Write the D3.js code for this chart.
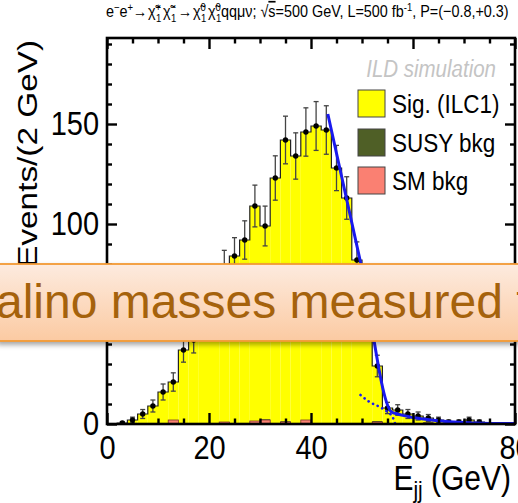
<!DOCTYPE html>
<html>
<head>
<meta charset="utf-8">
<script src="https://cdn.jsdelivr.net/npm/d3@7"></script>
<style>
  body { margin: 0; background: #fff; }
  svg { display: block; font-family: "Liberation Sans", Arial, Helvetica, sans-serif; }
</style>
</head>
<body>
<div id="chart"></div>
<script>
// ---- data (2 GeV bins, lower edges) ----
const binLow = [0, 2, 4, 6, 8, 10, 12, 14, 16, 18, 20, 22, 24, 26, 28, 30, 32, 34, 36, 38,
                40, 42, 44, 46, 48, 50, 52, 54, 56, 58, 60, 62, 64, 66, 68, 70, 72, 74, 76, 78];
// total stack (signal + bkg), also the pseudo-data points
const sigTotal = [0, 0.5, 2, 5, 9, 16, 21, 37, 42, 55, 68, 78, 84, 92, 109, 99, 123, 142, 134, 146,
                  149, 147, 128, 113, 82, 58, 29, 8, 7, 5, 4, 3, 2, 1, 1, 2, 1, 0, 0, 0];
const susyBkg = [0, 0, 0, 0, 0, 0, 0, 0, 0, 0, 0, 0, 0, 0, 0, 0.4, 0, 0.4, 0, 0,
                 0, 0, 0, 0, 0, 0, 0.5, 0, 0, 0, 0, 0.4, 0, 0, 0, 0, 0, 0, 0, 0];
const smBkg = [0, 0, 0, 0, 0, 0, 2, 0, 0, 0, 0, 1, 0, 0, 1.5, 2, 0, 1, 0, 2,
               0, 0, 0, 0, 0, 0, 1, 0, 0, 0, 0, 0.5, 0, 0, 0, 0, 0, 0, 0, 0];
// fit (edge + tail) and its background component, [E, events]
const fitLine = [[43.3, 155], [49.7, 81], [55.8, 6], [57, 5], [58, 4.3], [60, 3.3], [62, 2.5],
                 [64, 1.9], [66, 1.4], [68, 1.0], [70, 0.7], [72, 0.5], [75, 0.3], [80, 0.2]];
const fitBkg = [[49.7, 14.5], [51.5, 11], [53.5, 8.5], [55, 6], [56, 3.5], [56.5, 0]];

const xMajor = [0, 20, 40, 60, 80];
const xMinor = [5, 10, 15, 25, 30, 35, 45, 50, 55, 65, 70, 75];
const yMajor = [0, 50, 100, 150];
const yMinor = [10, 20, 30, 40, 60, 70, 80, 90, 110, 120, 130, 140, 160, 170, 180, 190];

const legendItems = [
  {label: "Sig. (ILC1)", color: "#ffff00"},
  {label: "SUSY bkg", color: "#4f5f26"},
  {label: "SM bkg", color: "#fa8072"}
];

// ---- layout ----
const W = 518, H = 503;
const SY = 1.17;   // the slide picture is stretched vertically
const frame = {left: 107, right: 515, top: 38, bottom: 424};

const svg = d3.select("#chart").append("svg")
    .attr("width", W)
    .attr("height", H);

const x = d3.scaleLinear().domain([0, 80]).range([frame.left, frame.right]);
const y = d3.scaleLinear().domain([0, 193]).range([frame.bottom, frame.top]);

const defs = svg.append("defs");
defs.append("clipPath").attr("id", "plotClip")
  .append("rect")
    .attr("x", frame.left).attr("y", frame.top)
    .attr("width", frame.right - frame.left).attr("height", frame.bottom - frame.top);

const plot = svg.append("g").attr("clip-path", "url(#plotClip)");

const bins = binLow.map((lo, i) => ({lo: lo, hi: lo + 2, tot: sigTotal[i], susy: susyBkg[i], sm: smBkg[i]}));

// yellow total histogram
plot.selectAll(".sig")
  .data(bins.filter(d => d.tot > 0))
  .enter().append("rect")
    .attr("class", "sig")
    .attr("x", d => x(d.lo))
    .attr("width", d => x(d.hi) - x(d.lo))
    .attr("y", d => y(d.tot))
    .attr("height", d => y(0) - y(d.tot))
    .attr("fill", legendItems[0].color);

// outline of histogram as a step line
let stepPts = bins.map(d => [d.lo, d.tot]);
stepPts.push([80, sigTotal[sigTotal.length - 1]]);
plot.append("path")
    .attr("d", d3.line().x(d => x(d[0])).y(d => y(d[1])).curve(d3.curveStepAfter)(stepPts))
    .attr("fill", "none")
    .attr("stroke", "#222")
    .attr("stroke-width", 1.2);

// susy bkg (stacked on sm), then sm bkg
plot.selectAll(".susy")
  .data(bins.filter(d => d.susy > 0))
  .enter().append("rect")
    .attr("class", "susy")
    .attr("x", d => x(d.lo))
    .attr("width", d => x(d.hi) - x(d.lo))
    .attr("y", d => y(d.susy + d.sm))
    .attr("height", d => y(0) - y(d.susy + d.sm))
    .attr("fill", legendItems[1].color);

plot.selectAll(".sm")
  .data(bins.filter(d => d.sm > 0))
  .enter().append("rect")
    .attr("class", "sm")
    .attr("x", d => x(d.lo))
    .attr("width", d => x(d.hi) - x(d.lo))
    .attr("y", d => y(d.sm))
    .attr("height", d => y(0) - y(d.sm))
    .attr("fill", legendItems[2].color)
    .attr("stroke", "#7a3a2c")
    .attr("stroke-width", 0.8);

// error bars + points
const pts = bins.filter(d => d.tot > 0 && d.lo < 76);
const eb = plot.selectAll(".eb").data(pts).enter().append("g").attr("class", "eb");
eb.append("line")
    .attr("x1", d => x(d.lo + 1)).attr("x2", d => x(d.lo + 1))
    .attr("y1", d => y(d.tot + Math.sqrt(d.tot)))
    .attr("y2", d => y(Math.max(0, d.tot - Math.sqrt(d.tot))))
    .attr("stroke", "#444").attr("stroke-width", 1.3);
["top", "bot"].forEach(function(k) {
  eb.append("line")
      .attr("x1", d => x(d.lo + 1) - 2.5).attr("x2", d => x(d.lo + 1) + 2.5)
      .attr("y1", d => y(k === "top" ? d.tot + Math.sqrt(d.tot) : Math.max(0, d.tot - Math.sqrt(d.tot))))
      .attr("y2", d => y(k === "top" ? d.tot + Math.sqrt(d.tot) : Math.max(0, d.tot - Math.sqrt(d.tot))))
      .attr("stroke", "#444").attr("stroke-width", 1.3);
});
eb.append("circle")
    .attr("cx", d => x(d.lo + 1))
    .attr("cy", d => y(d.tot))
    .attr("r", 2.7)
    .attr("fill", "#000");

// fit curves
plot.append("path")
    .attr("d", d3.line().x(d => x(d[0])).y(d => y(d[1])).curve(d3.curveMonotoneX)(fitBkg))
    .attr("fill", "none")
    .attr("stroke", "#1a1aee")
    .attr("stroke-width", 2.6)
    .attr("stroke-linecap", "round")
    .attr("stroke-dasharray", "0.1,5");

plot.append("path")
    .attr("d", d3.line().x(d => x(d[0])).y(d => y(d[1])).curve(d3.curveMonotoneX)(fitLine))
    .attr("fill", "none")
    .attr("stroke", "#1a1aee")
    .attr("stroke-width", 3);

// ---- axes (ROOT style, ticks inside on all sides) ----
function styleAxis(g) {
  g.select(".domain").remove();
  g.selectAll(".tick line").attr("stroke", "#000").attr("stroke-width", 2.4);
}

svg.append("g").attr("transform", `translate(0,${frame.bottom})`)
    .call(d3.axisBottom(x).tickValues(xMajor).tickSize(-11).tickPadding(9).tickFormat(d3.format("d")))
    .call(styleAxis)
    .call(g => g.selectAll("text").attr("font-size", 29).attr("fill", "#000")
      .attr("font-family", "Liberation Sans, Arial, sans-serif")
      .attr("transform", `scale(1,${SY})`));
svg.append("g").attr("transform", `translate(0,${frame.bottom})`)
    .call(d3.axisBottom(x).tickValues(xMinor).tickSize(-5.5).tickFormat(""))
    .call(styleAxis);
svg.append("g").attr("transform", `translate(0,${frame.top})`)
    .call(d3.axisTop(x).tickValues(xMajor).tickSize(-11).tickFormat(""))
    .call(styleAxis);
svg.append("g").attr("transform", `translate(0,${frame.top})`)
    .call(d3.axisTop(x).tickValues(xMinor).tickSize(-5.5).tickFormat(""))
    .call(styleAxis);

// the 50 label sits under the banner, so it is left out
svg.append("g").attr("transform", `translate(${frame.left},0)`)
    .call(d3.axisLeft(y).tickValues(yMajor).tickSize(-10).tickPadding(8)
      .tickFormat(d => d === 50 ? "" : d3.format("d")(d)))
    .call(styleAxis)
    .call(g => g.selectAll("text").attr("font-size", 29).attr("fill", "#000")
      .attr("font-family", "Liberation Sans, Arial, sans-serif")
      .attr("transform", `scale(1,${SY})`));
svg.append("g").attr("transform", `translate(${frame.left},0)`)
    .call(d3.axisLeft(y).tickValues(yMinor).tickSize(-5).tickFormat(""))
    .call(styleAxis);
svg.append("g").attr("transform", `translate(${frame.right},0)`)
    .call(d3.axisRight(y).tickValues(yMajor).tickSize(-10).tickFormat(""))
    .call(styleAxis);
svg.append("g").attr("transform", `translate(${frame.right},0)`)
    .call(d3.axisRight(y).tickValues(yMinor).tickSize(-5).tickFormat(""))
    .call(styleAxis);

svg.append("rect")
    .attr("x", frame.left).attr("y", frame.top)
    .attr("width", frame.right - frame.left).attr("height", frame.bottom - frame.top)
    .attr("fill", "none").attr("stroke", "#000").attr("stroke-width", 2.6);

// ---- titles ----
const xt = svg.append("text")
    .attr("transform", `translate(511,490) scale(1,${SY})`)
    .attr("text-anchor", "end")
    .attr("font-size", 30);
xt.append("tspan").text("E");
xt.append("tspan").attr("font-size", 21).attr("dy", 7).text("jj");
xt.append("tspan").attr("dy", -7).text(" (GeV)");

svg.append("text")
    .attr("transform", `translate(37,40) scale(1,${SY}) rotate(-90)`)
    .attr("text-anchor", "end")
    .attr("font-size", 28.5)
    .text("Events/(2 GeV)");

// top process line; pieces placed where they sit in the picture
const tt = svg.append("text")
    .attr("transform", `translate(0,17) scale(1,${SY})`)
    .attr("font-size", 14.4);
function piece(str, px, py, size) {
  const s = tt.append("tspan").attr("y", py).text(str);
  if (px !== null) s.attr("x", px);
  if (size) s.attr("font-size", size);
  return s;
}
function chi(px, s1, s2) {
  piece("\u03c7\u0303", px, 0);
  piece(s1, null, -5.5, 9.5);
  piece(s2, px + 8, 4, 9.5);
}
piece("e", 106, 0);
piece("\u2212", null, -5.5, 9.5);
piece("e", null, 0);
piece("+", null, -5.5, 9.5);
piece("\u2192", 133, 0);
chi(148, "+", "1");
chi(163, "\u2212", "1");
piece("\u2192", 178, 0);
chi(193, "0", "1");
chi(208, "0", "1");
piece("qq\u03bc\u03bd; \u221a", 221, 0);
piece("s", null, 0).attr("text-decoration", "overline");
piece("=500 GeV, L=500 fb", null, 0);
piece("-1", null, -5.5, 9.5);
piece(", P=(\u22120.8,+0.3)", null, 0);

// ILD simulation tag
svg.append("text")
    .attr("transform", `translate(496,77) scale(1,${SY})`)
    .attr("text-anchor", "end")
    .attr("font-size", 20.5)
    .attr("font-style", "italic")
    .attr("fill", "#c4c4c4")
    .text("ILD simulation");

// ---- legend ----
const leg = svg.append("g");
const legY = [90, 129, 167];
legendItems.forEach(function(d, i) {
  leg.append("rect")
      .attr("x", 358).attr("y", legY[i])
      .attr("width", 27).attr("height", 27)
      .attr("fill", d.color)
      .attr("stroke", "#444").attr("stroke-width", 1);
  leg.append("text")
      .attr("transform", `translate(392,${legY[i] + 13.5 + 9.4}) scale(1,${SY})`)
      .attr("font-size", 22.5)
      .text(d.label);
});

// ---- slide banner overlapping the plot ----
const grad = defs.append("linearGradient").attr("id", "bannerGrad")
    .attr("x1", 0).attr("y1", 0).attr("x2", 0).attr("y2", 1);
grad.append("stop").attr("offset", "0%").attr("stop-color", "#fdebdf");
grad.append("stop").attr("offset", "100%").attr("stop-color", "#fbcaa2");

const shadow = defs.append("filter").attr("id", "bannerShadow")
    .attr("x", "-5%").attr("y", "-20%").attr("width", "110%").attr("height", "150%");
shadow.append("feDropShadow")
    .attr("dx", 0).attr("dy", 3).attr("stdDeviation", 2.5)
    .attr("flood-color", "#000").attr("flood-opacity", 0.35);

svg.append("rect")
    .attr("x", -2).attr("y", 264)
    .attr("width", W + 4).attr("height", 77)
    .attr("fill", "url(#bannerGrad)")
    .attr("stroke", "#f29a33").attr("stroke-width", 1.8)
    .attr("filter", "url(#bannerShadow)");

svg.append("text")
    .attr("x", -4).attr("y", 318)
    .attr("font-size", 48)
    .attr("fill", "#a5620c")
    .text("alino masses measured to");
</script>
</body>
</html>
